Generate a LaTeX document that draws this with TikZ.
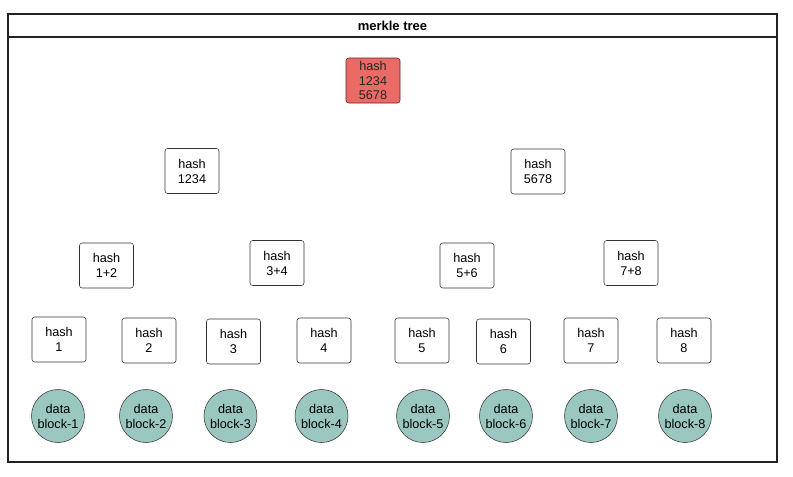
\documentclass[tikz,border=0pt]{standalone}
\usepackage{fontspec}
\setmainfont{Liberation Sans}
\usepackage{xcolor}
\definecolor{rootfill}{HTML}{EA6B66}
\definecolor{rootline}{HTML}{6B1F1F}
\definecolor{datafill}{HTML}{9AC7BF}
\definecolor{frameline}{HTML}{222222}
\usepackage{tikz}
\usetikzlibrary{positioning}
\tikzset{
  hbox/.style    = {rectangle, rounded corners=2pt, draw=black!80,
                    fill=white, minimum height=33.75pt, minimum width=40.5pt,
                    inner sep=1pt, align=center, font=\fontsize{9.5}{11.3}\selectfont},
  rootbox/.style = {hbox, draw=rootline, fill=rootfill, text=black!85,
                    font=\fontsize{9.5}{10.8}\selectfont},
  dblock/.style  = {circle, draw=black!80, fill=datafill, minimum size=39.75pt,
                    inner sep=0pt, align=center, font=\fontsize{9.5}{11.3}\selectfont},
  frame/.style   = {draw=frameline, line width=0.8pt}
}

\begin{document}
\begin{tikzpicture}[x=0.75pt, y=-0.75pt, node distance=19.5pt]
  \useasboundingbox (0,0) rectangle (793,476);
  % outer frame with title bar
  \draw[frame] (8,14) rectangle (777,462);
  \draw[frame] (8,37) -- (777,37);
  \node[font=\fontsize{9.75}{11}\selectfont\bfseries] (title) at (392.5,25.5) {merkle tree};

  % top of the tree
  \node[rootbox] (h12345678) at (373,80.5) {hash\\1234\\5678};
  \node[hbox] (h1234) at (192,171) {hash\\1234};
  \node[hbox] (h5678) at (538,171.5) {hash\\5678};

  % pairs
  \node[hbox] (h12) at (106.5,265.5) {hash\\1+2};
  \node[hbox] (h34) at (277,263) {hash\\3+4};
  \node[hbox] (h56) at (467,265.5) {hash\\5+6};
  \node[hbox] (h78) at (631,263) {hash\\7+8};

  % leaves
  \node[hbox] (h1) at (59,339.5) {hash\\1};
  \node[hbox] (h2) at (149,340.5) {hash\\2};
  \node[hbox] (h3) at (233.5,341.5) {hash\\3};
  \node[hbox] (h4) at (324,340.5) {hash\\4};
  \node[hbox] (h5) at (422,340.5) {hash\\5};
  \node[hbox] (h6) at (503.5,341.5) {hash\\6};
  \node[hbox] (h7) at (591,340.5) {hash\\7};
  \node[hbox] (h8) at (684,340.5) {hash\\8};

  % data blocks
  \node[dblock] (d1) at (58,416) {data\\block-1};
  \node[dblock] (d2) at (146,416) {data\\block-2};
  \node[dblock] (d3) at (230.5,416) {data\\block-3};
  \node[dblock] (d4) at (321.5,416) {data\\block-4};
  \node[dblock] (d5) at (423,416) {data\\block-5};
  \node[dblock] (d6) at (506,416) {data\\block-6};
  \node[dblock] (d7) at (591,416) {data\\block-7};
  \node[dblock] (d8) at (685,416) {data\\block-8};
\end{tikzpicture}
\end{document}
